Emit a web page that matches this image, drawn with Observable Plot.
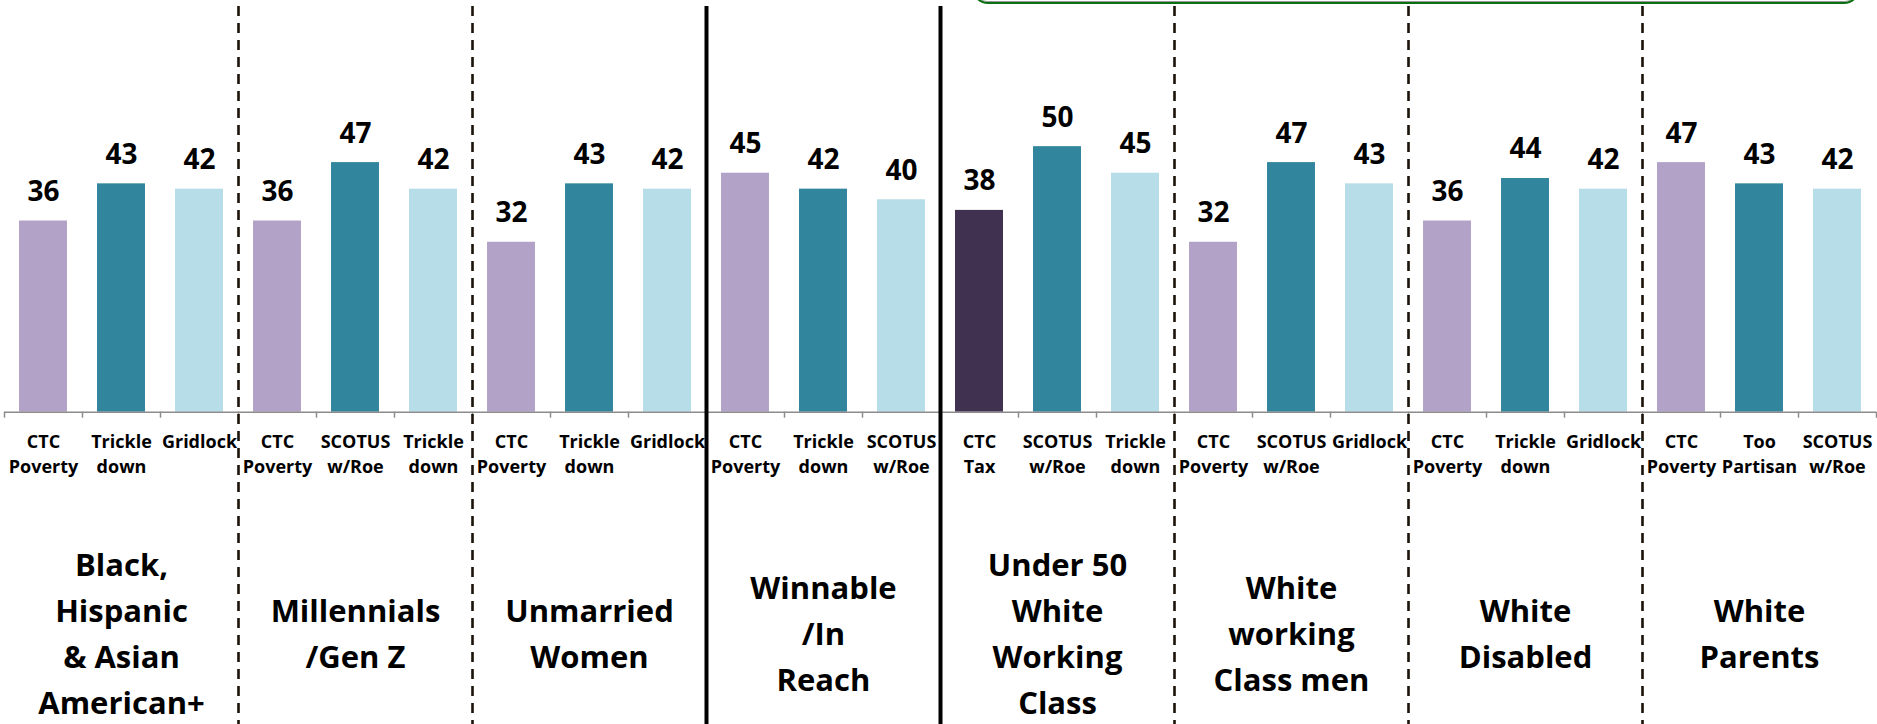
<!DOCTYPE html>
<html><head><meta charset="utf-8">
<script src="https://cdn.jsdelivr.net/npm/d3@7"></script>
<script src="https://cdn.jsdelivr.net/npm/@observablehq/plot@0.6"></script>
<style>
html,body{margin:0;padding:0;background:#fff;}
#wrap{position:relative;width:1877px;height:724px;overflow:hidden;}
#box{position:absolute;left:972px;top:-40px;width:884px;height:40px;border:2px solid #0a6e12;border-radius:16px;box-shadow:0 -1px 0 #999 inset;}
#wrap svg{position:absolute;left:0;top:0;}
</style></head><body><div id="wrap"><div id="box"></div></div>
<script>
const groups = [
  "Black,\nHispanic\n& Asian\nAmerican+",
  "Millennials\n/Gen Z",
  "Unmarried\nWomen",
  "Winnable\n/In\nReach",
  "Under 50\nWhite\nWorking\nClass",
  "White\nworking\nClass men",
  "White\nDisabled",
  "White\nParents"
];
const topics = [
  ["CTC\nPoverty", "Trickle\ndown", "Gridlock"],
  ["CTC\nPoverty", "SCOTUS\nw/Roe", "Trickle\ndown"],
  ["CTC\nPoverty", "Trickle\ndown", "Gridlock"],
  ["CTC\nPoverty", "Trickle\ndown", "SCOTUS\nw/Roe"],
  ["CTC\nTax", "SCOTUS\nw/Roe", "Trickle\ndown"],
  ["CTC\nPoverty", "SCOTUS\nw/Roe", "Gridlock"],
  ["CTC\nPoverty", "Trickle\ndown", "Gridlock"],
  ["CTC\nPoverty", "Too\nPartisan", "SCOTUS\nw/Roe"]
];
const values = [
  [36, 43, 42],
  [36, 47, 42],
  [32, 43, 42],
  [45, 42, 40],
  [38, 50, 45],
  [32, 47, 43],
  [36, 44, 42],
  [47, 43, 42]
];
const standaloneGroup = "Winnable\n/In\nReach";
const highlightTopic = "CTC\nTax";

const rows = [];
groups.forEach((g, gi) => topics[gi].forEach((t, j) => rows.push({
  group: g, gi, slot: j, index: gi * topics[gi].length + j, topic: t, value: values[gi][j]
})));
const n = rows.length;
const per = 3;
const breaks = d3.range(1, groups.length).map(k => ({pos: k * per,
  solid: groups[k] === standaloneGroup || groups[k - 1] === standaloneGroup}));

const W = 1877, H = 724;
const marginTop = 13.4, marginBottom = 312.3;
const fillKey = d => d.topic === highlightTopic ? "highlight" : "s" + d.slot;

const chart = Plot.plot({
  width: W, height: H,
  marginLeft: 4, marginRight: 1, marginTop, marginBottom,
  style: {fontFamily: "'Open Sans', sans-serif", background: "transparent", color: "#000"},
  x: {type: "linear", domain: [0, n], axis: null, label: null},
  y: {domain: [0, 75], axis: null, label: null},
  color: {domain: ["s0", "s1", "s2", "highlight"], range: ["#B3A2C7", "#31859C", "#B7DEE8", "#403151"]},
  marks: [
    Plot.rectY(rows, {x1: d => d.index + 0.1925, x2: d => d.index + 0.8075, y: "value", fill: fillKey}),
    Plot.ruleY([0], {stroke: "#8c8c8c", strokeWidth: 1.5}),
    Plot.axisX({ticks: d3.range(n + 1), tickFormat: () => "", tickSize: 6, stroke: "#8c8c8c", strokeWidth: 1.5, label: null}),
    Plot.text(rows, {x: d => d.index + 0.5, y: "value", text: d => String(d.value), dy: -29,
      fontSize: 28, fontWeight: "bold", fill: "#000"}),
    Plot.text(rows, {x: d => d.index + 0.5, text: "topic", frameAnchor: "bottom", lineAnchor: "top",
      dy: 18, fontSize: 18, fontWeight: "bold", lineHeight: 25.3 / 18, fill: "#000"}),
    Plot.text(groups, {x: (d, i) => i * per + per / 2, text: d => d, frameAnchor: "bottom", lineAnchor: "middle",
      dy: 218.5, fontSize: 31, fontWeight: "bold", lineHeight: 46 / 31, fill: "#000"}),
    Plot.ruleX(breaks.filter(b => !b.solid), {x: d => d.pos, stroke: "#1b1209", strokeWidth: 2.6,
      strokeDasharray: "10,7", insetTop: -(marginTop - 6), insetBottom: -marginBottom}),
    Plot.ruleX(breaks.filter(b => b.solid), {x: d => d.pos, stroke: "#000", strokeWidth: 4,
      insetTop: -(marginTop - 6), insetBottom: -marginBottom})
  ]
});
document.getElementById("wrap").appendChild(chart);
</script>
</body></html>
